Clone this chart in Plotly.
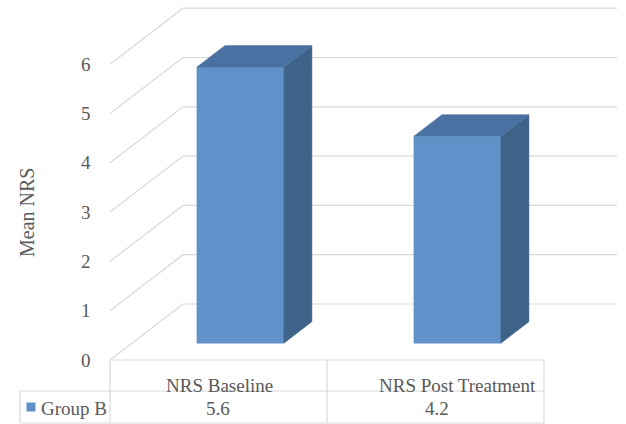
import plotly.graph_objects as go

# ---- data ----
categories = ["NRS Baseline", "NRS Post Treatment"]
series_name = "Group B"
values = [5.6, 4.2]
value_labels = ["5.6", "4.2"]
y_ticks = [0, 1, 2, 3, 4, 5, 6]

# ---- geometry (pixel-derived scale for the pseudo-3D projection) ----
W, H = 626, 424
X0, SX = 218.5, 217.0      # pixel of category 0 centre, pixels per category
Y0, SY = 360.0, 49.3       # pixel of value 0 (front plane), pixels per unit
DX, DY = 73.0 / SX, 56.0 / SY   # full depth offset in axis units
HW = 43.5 / SX             # half bar width
D_FRONT, D_BACK = 0.30, 0.684

def px2x(p):
    return (p - X0) / SX

def py2y(p):
    return (Y0 - p) / SY

def proj(x, v, d):
    return x + DX * d, v + DY * d

FRONT = "#6091c8"
TOP = "#4a71a1"
SIDE = "#3e6389"
GRID = "#d9d9d9"
TXT = "#595959"
FONT = "Liberation Serif, Times New Roman, serif"

fig = go.Figure()

# gridlines: left-wall diagonals and back-wall horizontals
gx, gy = [], []
xl, xr = -0.5, len(categories) - 0.5
for t in y_ticks:
    a = proj(xl, t, 0)
    b = proj(xl, t, 1)
    c = proj(xr, t, 1)
    gx += [a[0], b[0], c[0], None]
    gy += [a[1], b[1], c[1], None]
fig.add_trace(go.Scatter(x=gx, y=gy, mode="lines", line=dict(color=GRID, width=1.2),
                         hoverinfo="skip"))

# bars
for i, v in enumerate(values):
    l, r = i - HW, i + HW
    P = proj
    faces = [
        ([P(l, 0, D_FRONT), P(r, 0, D_FRONT), P(r, v, D_FRONT), P(l, v, D_FRONT)], FRONT),
        ([P(r, 0, D_FRONT), P(r, 0, D_BACK), P(r, v, D_BACK), P(r, v, D_FRONT)], SIDE),
        ([P(l, v, D_FRONT), P(r, v, D_FRONT), P(r, v, D_BACK), P(l, v, D_BACK)], TOP),
    ]
    for pts, col in faces:
        xs = [p[0] for p in pts] + [pts[0][0]]
        ys = [p[1] for p in pts] + [pts[0][1]]
        fig.add_trace(go.Scatter(x=xs, y=ys, mode="lines", fill="toself",
                                 fillcolor=col, line=dict(color=col, width=0.5),
                                 hoverinfo="skip"))

# data table lines
TL, TLEG = px2x(110), px2x(20)
TRIGHT = xr
COLDIV = 0.5
ytop, ymid, ybot = 0.0, py2y(391), py2y(423)
tx = [TL, TRIGHT, None, TLEG, TRIGHT, None, TLEG, TRIGHT, None,
      TLEG, TLEG, None, TL, TL, None, COLDIV, COLDIV, None, TRIGHT, TRIGHT]
ty = [ytop, ytop, None, ymid, ymid, None, ybot, ybot, None,
      ymid, ybot, None, ytop, ybot, None, ytop, ybot, None, ytop, ybot]
fig.add_trace(go.Scatter(x=tx, y=ty, mode="lines", line=dict(color=GRID, width=1.2),
                         hoverinfo="skip"))

# legend key in table
fig.add_trace(go.Scatter(x=[px2x(31)], y=[py2y(407)], mode="markers",
                         marker=dict(symbol="square", size=9, color=FRONT),
                         hoverinfo="skip"))

ann = []
for t in y_ticks:
    ann.append(dict(x=xl, y=t, xref="x", yref="y", text=str(t), showarrow=False,
                    xanchor="right", xshift=-17, font=dict(family=FONT, size=19, color=TXT)))
cat_px = [219, 457]
for i, c in enumerate(categories):
    ann.append(dict(x=px2x(cat_px[i]), y=py2y(385), xref="x", yref="y", text=c,
                    showarrow=False, font=dict(family=FONT, size=19, color=TXT)))
val_px = [218, 437]
for i, s in enumerate(value_labels):
    ann.append(dict(x=px2x(val_px[i]), y=py2y(408), xref="x", yref="y", text=s,
                    showarrow=False, font=dict(family=FONT, size=19, color=TXT)))
ann.append(dict(x=px2x(39), y=py2y(408), xref="x", yref="y", text=series_name,
                showarrow=False, xanchor="left", font=dict(family=FONT, size=19, color=TXT)))
ann.append(dict(x=px2x(27), y=py2y(213), xref="x", yref="y", text="Mean NRS",
                showarrow=False, textangle=-90, font=dict(family=FONT, size=20, color=TXT)))

fig.update_layout(
    width=W, height=H, margin=dict(l=0, r=0, t=0, b=0),
    paper_bgcolor="white", plot_bgcolor="white", showlegend=False,
    font=dict(family=FONT),
    xaxis=dict(range=[px2x(0), px2x(W)], visible=False, fixedrange=True),
    yaxis=dict(range=[py2y(H), py2y(0)], visible=False, fixedrange=True),
    annotations=ann,
)
fig.write_html("out.html")
